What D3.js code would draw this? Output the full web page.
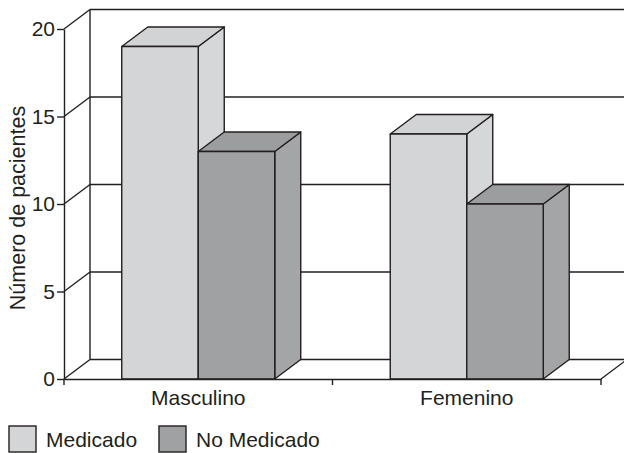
<!DOCTYPE html>
<html>
<head>
<meta charset="utf-8">
<script src="https://cdn.jsdelivr.net/npm/d3@7"></script>
<style>
  html, body { margin: 0; padding: 0; background: #fff; }
  svg { display: block; font-family: "Liberation Sans", Arial, sans-serif; }
</style>
</head>
<body>
<svg id="chart" width="624" height="453"></svg>
<script>
// Patients per sex, split by medication status
const categories = ["Masculino", "Femenino"];
const series = ["Medicado", "No Medicado"];
const medicado = [19, 14];
const noMedicado = [13, 10];
const yTicks = [0, 5, 10, 15, 20];
const yTitle = "Número de pacientes";

const values = [medicado, noMedicado];
const faceColors = ["#d4d5d7", "#a0a1a3"];
const topColors = ["#d2d3d5", "#9c9d9f"];
const sideColors = ["#d6d7d9", "#a4a5a7"];
const ink = "#231f20";
const fontFamily = "Liberation Sans, Arial, sans-serif";
const sw = 1.4;

const svg = d3.select("#chart");

// front plane geometry and depth offset of the 3D box
const plotLeft = 64, plotRight = 601, plotBottom = 379, plotTop = 29;
const dx = 26, dy = -19.5;

const x = d3.scaleBand().domain(categories).range([plotLeft, plotRight]).padding(0);
const xs = d3.scaleBand().domain(series).range([0, x.bandwidth()]).paddingInner(0).paddingOuter(0.755);
const y = d3.scaleLinear().domain([0, 20]).range([plotBottom, plotTop]);

const g = svg.append("g");
const lineStyle = sel => sel.attr("stroke", ink).attr("stroke-width", sw).attr("fill", "none");

// back wall gridlines and side wall diagonals
yTicks.forEach(t => {
  g.append("line").call(lineStyle)
    .attr("x1", plotLeft + dx).attr("x2", plotRight + dx + 2)
    .attr("y1", y(t) + dy).attr("y2", y(t) + dy);
  g.append("line").call(lineStyle)
    .attr("x1", plotLeft).attr("y1", y(t))
    .attr("x2", plotLeft + dx).attr("y2", y(t) + dy);
});
// back wall left edge
g.append("line").call(lineStyle)
  .attr("x1", plotLeft + dx).attr("x2", plotLeft + dx)
  .attr("y1", y(20) + dy).attr("y2", y(0) + dy);
// floor right edge
g.append("line").call(lineStyle)
  .attr("x1", plotRight).attr("y1", y(0))
  .attr("x2", plotRight + dx).attr("y2", y(0) + dy);

// 3D bars
const bars = g.append("g");
categories.forEach((c, ci) => {
  series.forEach((s, si) => {
    const v = values[si][ci];
    const x0 = x(c) + xs(s), x1 = x0 + xs.bandwidth();
    const y0 = y(0), y1 = y(v);
    const b = bars.append("g").attr("stroke", ink).attr("stroke-width", sw).attr("stroke-linejoin", "round");
    // right side face
    b.append("path").attr("fill", sideColors[si])
      .attr("d", `M${x1},${y0}L${x1 + dx},${y0 + dy}L${x1 + dx},${y1 + dy}L${x1},${y1}Z`);
    // top face
    b.append("path").attr("fill", topColors[si])
      .attr("d", `M${x0},${y1}L${x0 + dx},${y1 + dy}L${x1 + dx},${y1 + dy}L${x1},${y1}Z`);
    // front face
    b.append("rect").attr("fill", faceColors[si])
      .attr("x", x0).attr("y", y1).attr("width", x1 - x0).attr("height", y0 - y1);
  });
});

// front y axis
const yAxis = svg.append("g")
  .attr("transform", `translate(${plotLeft},0)`)
  .call(d3.axisLeft(y).tickValues(yTicks).tickSize(7).tickSizeOuter(0).tickPadding(2).tickFormat(d3.format("d")));
yAxis.select(".domain").attr("stroke", ink).attr("stroke-width", sw);
yAxis.selectAll(".tick line").attr("stroke", ink).attr("stroke-width", sw);
yAxis.selectAll(".tick text").attr("fill", ink).attr("font-size", 21)
  .attr("font-family", fontFamily);

// front x axis (floor front edge), labels centered in each band
const xAxis = svg.append("g")
  .attr("transform", `translate(0,${plotBottom})`)
  .call(d3.axisBottom(x).tickSize(0).tickPadding(11));
xAxis.select(".domain").attr("stroke", ink).attr("stroke-width", sw);
xAxis.selectAll(".tick text").attr("fill", ink).attr("font-size", 21)
  .attr("font-family", fontFamily);
// category boundary ticks
const bounds = [x(categories[0])].concat(categories.map(c => x(c) + x.bandwidth()));
bounds.forEach(bx => {
  svg.append("line").call(lineStyle)
    .attr("x1", bx).attr("x2", bx).attr("y1", plotBottom).attr("y2", plotBottom + 6);
});

// y axis title
svg.append("text")
  .attr("transform", `translate(25,208) rotate(-90)`)
  .attr("text-anchor", "middle")
  .attr("font-size", 21.5)
  .attr("font-family", fontFamily)
  .attr("fill", ink)
  .text(yTitle);

// legend
const legend = svg.append("g").attr("transform", "translate(9,426)");
const legendX = [0, 150];
series.forEach((s, i) => {
  const lg = legend.append("g").attr("transform", `translate(${legendX[i]},0)`);
  lg.append("rect").attr("x", 0).attr("y", 0).attr("width", 27).attr("height", 26)
    .attr("fill", faceColors[i]).attr("stroke", ink).attr("stroke-width", sw);
  lg.append("text").attr("x", 37).attr("y", 21).attr("font-size", 21)
    .attr("font-family", fontFamily).attr("fill", ink).text(s);
});
</script>
</body>
</html>
